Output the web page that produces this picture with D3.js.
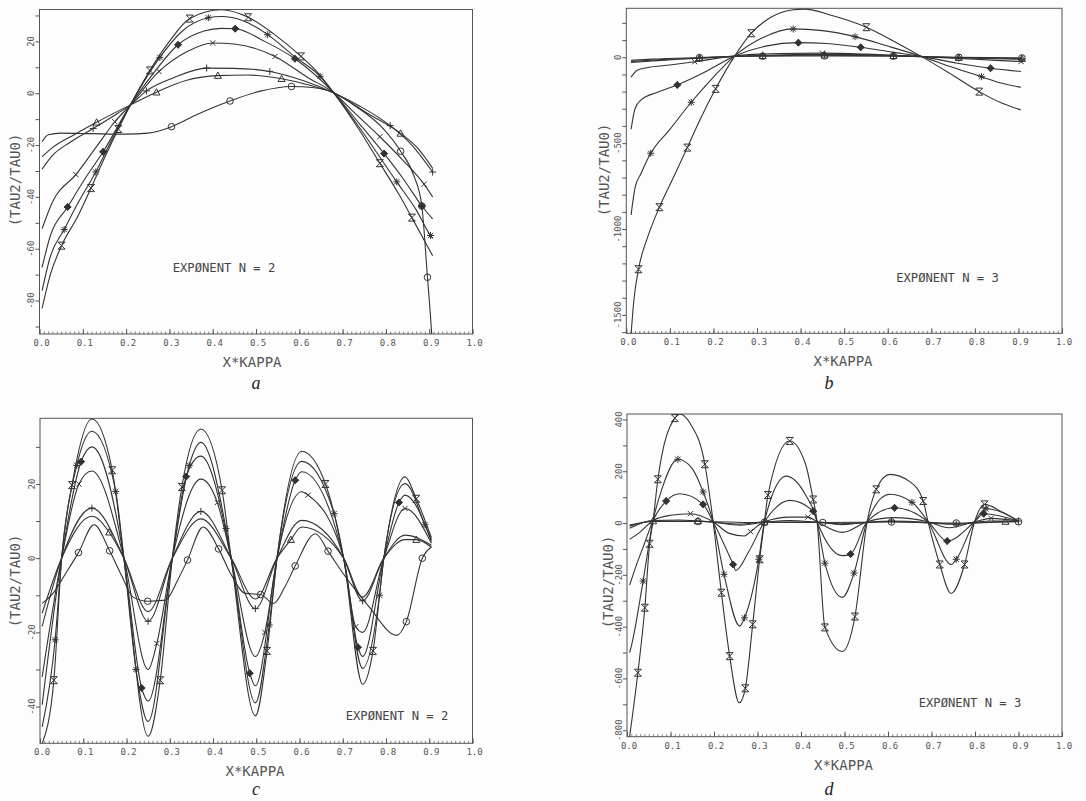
<!DOCTYPE html>
<html><head><meta charset="utf-8">
<script src="https://cdn.jsdelivr.net/npm/d3@7"></script>
<style>body{margin:0;background:#fff}</style>
</head><body>
<svg id="chart" width="1086" height="801"></svg>
<script>
// ---------- tick labels ----------
const xTickVals = [0,0.1,0.2,0.3,0.4,0.5,0.6,0.7,0.8,0.9,1.0];
const aYLabels = [20,0,-20,-40,-60,-80];
const bYLabels = [0,-500,-1000,-1500];
const cYLabels = [20,0,-20,-40];
const dYLabels = [400,200,0,-200,-400,-600,-800];
const symbols = ["hour","star","diam","cross","plus","tri","circ"];

// ---------- panel a (N = 2) : [x, y, marker] ----------
const aHour = [[0.006,-83],[0.025,-70],[0.051,-58.8,1],[0.09,-47],[0.119,-36.6,1],[0.15,-25],[0.182,-13.8,1],[0.21,-4.5],[0.255,8.8,1],[0.30,20],[0.347,28.8,1],[0.42,32.2],[0.482,29.3,1],[0.54,23],[0.604,14.2,1],[0.645,7.5],[0.679,0.3],[0.73,-12],[0.786,-27,1],[0.83,-39],[0.86,-48,1],[0.908,-62.7]];
const aStar = [[0.006,-76.2],[0.025,-63],[0.057,-52.6,1],[0.09,-42],[0.13,-30.4,1],[0.17,-17],[0.21,-4.5],[0.278,13.8,1],[0.33,24],[0.39,29.1,1],[0.42,29.6],[0.47,28],[0.527,22.6,1],[0.59,14],[0.648,6.5,1],[0.679,0.2],[0.74,-13.5],[0.825,-34.2,1],[0.87,-45],[0.903,-54.9,1],[0.908,-56]];
const aDiam = [[0.006,-67.2],[0.025,-55],[0.065,-43.9,1],[0.105,-33],[0.147,-22.6,1],[0.21,-4.5],[0.26,7],[0.32,18.7,1],[0.38,24],[0.42,25],[0.452,24.9,1],[0.52,20],[0.59,13.3,1],[0.679,0.2],[0.74,-12],[0.796,-23.3,1],[0.84,-33],[0.883,-43.5,1],[0.908,-48.5]];
const aCross = [[0.006,-52.3],[0.03,-42],[0.084,-31.4,1],[0.13,-21],[0.174,-11,1],[0.21,-4.5],[0.276,8.4,1],[0.34,16],[0.40,19.4,1],[0.45,19],[0.544,14.2,1],[0.62,6],[0.679,0.2],[0.73,-8],[0.786,-16.8,1],[0.84,-26],[0.888,-35.1,1],[0.908,-40]];
const aPlus = [[0.006,-29.3],[0.03,-24],[0.07,-19],[0.124,-13.6,1],[0.18,-7.8],[0.21,-4.5],[0.247,0.9,1],[0.31,6],[0.386,9.7,1],[0.45,9.6],[0.532,8.4,1],[0.61,4.8],[0.679,0.2],[0.74,-5],[0.81,-12.5,1],[0.86,-20],[0.908,-30.4,1]];
const aTri = [[0.006,-24.5],[0.03,-21],[0.08,-16],[0.132,-11.2,1],[0.21,-4.5],[0.27,0.4,1],[0.34,5],[0.412,6.8,1],[0.48,7],[0.559,5.6,1],[0.62,3.3],[0.679,0.2],[0.76,-8],[0.834,-15.5,1],[0.875,-21.5],[0.908,-29]];
const aCirc = [[0.006,-18.7],[0.02,-16],[0.05,-15.4],[0.12,-15.6],[0.2,-15.8],[0.25,-15.4],[0.305,-12.9,1],[0.36,-8.5],[0.44,-3,1],[0.51,0.8],[0.582,2.6,1],[0.63,2.2],[0.679,0.2],[0.73,-5],[0.79,-13],[0.834,-22.4,1],[0.865,-32],[0.883,-43.5,1],[0.896,-71,1],[0.903,-86],[0.906,-93.5]];

// ---------- panel b (N = 3) ----------
const bHour = [[0.009,-1680],[0.018,-1400],[0.028,-1234,1],[0.05,-1040],[0.076,-873,1],[0.11,-690],[0.14,-526,1],[0.17,-360],[0.205,-184,1],[0.249,8],[0.287,140,1],[0.33,230],[0.38,275],[0.409,280],[0.47,245],[0.551,175,1],[0.62,85],[0.677,5],[0.74,-90],[0.81,-200,1],[0.86,-265],[0.906,-307]];
const bStar = [[0.011,-918],[0.02,-760],[0.034,-675],[0.056,-559,1],[0.1,-420],[0.149,-262,1],[0.2,-115],[0.249,8],[0.31,110],[0.383,165,1],[0.45,155],[0.525,120,1],[0.6,65],[0.677,5],[0.75,-60],[0.815,-113,1],[0.86,-150],[0.906,-175]];
const bDiam = [[0.011,-419],[0.02,-300],[0.034,-248],[0.07,-205],[0.117,-161,1],[0.185,-80],[0.249,8],[0.32,65],[0.395,85,1],[0.46,80],[0.538,58,1],[0.61,30],[0.677,5],[0.76,-35],[0.836,-64,1],[0.906,-83]];
const bCross = [[0.011,-116],[0.025,-75],[0.05,-60],[0.1,-45],[0.157,-26,1],[0.249,8],[0.35,22],[0.45,24,1],[0.55,18],[0.677,3],[0.8,-12],[0.906,-25,1]];
const bPlus = [[0.011,-30],[0.06,-22],[0.12,-12],[0.168,-6,1],[0.249,6],[0.313,12,1],[0.455,17,1],[0.613,12,1],[0.677,4],[0.763,-4,1],[0.908,-12,1]];
const bTri = [[0.011,-25],[0.08,-14],[0.168,-4,1],[0.249,5],[0.313,9,1],[0.455,12,1],[0.613,9,1],[0.763,-2,1],[0.908,-8,1]];
const bCirc = [[0.011,-18],[0.06,-11],[0.168,-2,1],[0.249,4],[0.313,6,1],[0.455,8,1],[0.613,6,1],[0.763,0,1],[0.908,-4,1]];

// ---------- panel c (N = 2) ----------
const cHour = [[0.005,-50],[0.032,-32.9,1],[0.05,0],[0.074,19.7,1],[0.12,37.5],[0.167,23.7,1],[0.194,0],[0.25,-48],[0.278,-32.9,1],[0.306,0],[0.328,19.2,1],[0.372,34.8],[0.421,18.3,1],[0.442,0],[0.498,-42.5],[0.525,-25,1],[0.548,0],[0.605,28.8],[0.66,20,1],[0.702,0],[0.746,-34],[0.77,-25,1],[0.795,0],[0.844,21.9],[0.87,16,1],[0.905,5.5]];
const cStar = [[0.005,-45.5],[0.035,-22,1],[0.05,0],[0.085,25,1],[0.12,34.2],[0.175,18,1],[0.194,0],[0.222,-30,1],[0.25,-44],[0.306,0],[0.345,25,1],[0.372,31.2],[0.43,8,1],[0.442,0],[0.498,-39],[0.53,-18,1],[0.548,0],[0.605,26.1],[0.68,12,1],[0.702,0],[0.746,-29.7],[0.785,-10,1],[0.795,0],[0.844,20.1],[0.89,9,1],[0.905,5]];
const cDiam = [[0.005,-39.5],[0.05,0],[0.095,26,1],[0.12,30],[0.194,0],[0.235,-35,1],[0.25,-38.5],[0.306,0],[0.338,22,1],[0.372,27.5],[0.442,0],[0.485,-31,1],[0.498,-34.4],[0.548,0],[0.59,21,1],[0.605,23.3],[0.702,0],[0.735,-24,1],[0.746,-26.5],[0.795,0],[0.83,15,1],[0.844,17],[0.905,4.5]];
const cCross = [[0.005,-32],[0.05,0],[0.09,20,1],[0.12,23.5],[0.194,0],[0.25,-30],[0.27,-23,1],[0.306,0],[0.372,21.3],[0.41,15,1],[0.442,0],[0.498,-26.5],[0.52,-20,1],[0.548,0],[0.605,17.9],[0.62,17,1],[0.702,0],[0.73,-18.5,1],[0.746,-20],[0.795,0],[0.844,13.4,1],[0.905,4]];
const cPlus = [[0.005,-18.4],[0.05,0],[0.12,13.5,1],[0.194,0],[0.25,-17,1],[0.306,0],[0.372,12.6,1],[0.442,0],[0.498,-13.6,1],[0.548,0],[0.605,10.2],[0.702,0],[0.746,-11.5,1],[0.795,0],[0.844,6.2],[0.905,3.5]];
const cTri = [[0.005,-14.8],[0.05,0],[0.12,11.3],[0.16,7,1],[0.194,0],[0.25,-14.4],[0.306,0],[0.372,10.6],[0.442,0],[0.498,-11],[0.548,0],[0.58,5,1],[0.605,8.4],[0.702,0],[0.746,-10.5],[0.795,0],[0.844,5],[0.87,5,1],[0.905,3]];
const cCirc = [[0.005,-12.2],[0.03,-9.5],[0.06,-4],[0.089,1.5,1],[0.125,9],[0.161,2,1],[0.19,-5],[0.215,-10.5],[0.249,-11.6,1],[0.29,-11.3],[0.318,-6],[0.341,-0.5,1],[0.377,8.4],[0.413,2.5,1],[0.44,-4],[0.475,-9.5],[0.51,-9.8,1],[0.54,-12.2],[0.565,-8],[0.59,-2.1,1],[0.637,6.6],[0.666,1.9,1],[0.7,-4],[0.76,-13],[0.825,-20.8],[0.847,-17.1,1],[0.884,0,1],[0.905,3]];

// ---------- panel d (N = 3) ----------
const dHour = [[0.006,-825],[0.025,-578,1],[0.041,-327,1],[0.052,-80,1],[0.06,10],[0.071,169,1],[0.11,405,1],[0.122,420],[0.145,385],[0.179,227,1],[0.198,5],[0.217,-269,1],[0.236,-514,1],[0.258,-694],[0.272,-638,1],[0.289,-391,1],[0.305,-140,1],[0.316,5],[0.324,108,1],[0.374,317,1],[0.41,230],[0.428,91,1],[0.437,5],[0.455,-403,1],[0.495,-496],[0.524,-361,1],[0.552,5],[0.573,130,1],[0.604,188],[0.65,160],[0.681,85,1],[0.692,5],[0.719,-160,1],[0.745,-272],[0.776,-160,1],[0.799,5],[0.822,72,1],[0.86,45],[0.9,8]];
const dStar = [[0.006,-500],[0.01,-475],[0.037,-224,1],[0.06,10],[0.08,130],[0.117,246,1],[0.15,210],[0.175,120,1],[0.198,5],[0.223,-198,1],[0.259,-398],[0.27,-366,1],[0.303,-140,1],[0.316,5],[0.366,181],[0.41,110],[0.437,5],[0.455,-155,1],[0.495,-287],[0.522,-193,1],[0.552,5],[0.604,111],[0.655,80,1],[0.692,5],[0.746,-160],[0.757,-140,1],[0.799,5],[0.825,55,1],[0.9,8]];
const dDiam = [[0.006,-240],[0.02,-170],[0.04,-80],[0.06,10],[0.09,85,1],[0.121,113],[0.175,72,1],[0.198,5],[0.244,-160,1],[0.25,-183],[0.28,-110],[0.316,5],[0.374,87.5],[0.428,46,1],[0.437,5],[0.495,-126],[0.514,-120,1],[0.552,5],[0.615,59,1],[0.692,5],[0.736,-69.5,1],[0.799,5],[0.82,36,1],[0.9,8]];
const dCross = [[0.006,-63],[0.03,-35],[0.06,10],[0.1,30],[0.146,36,1],[0.198,5],[0.235,-40],[0.27,-50],[0.284,-33,1],[0.316,5],[0.374,23],[0.416,23,1],[0.437,5],[0.495,-36],[0.552,5],[0.615,21],[0.692,5],[0.74,-18],[0.799,5],[0.837,18,1],[0.9,8]];
const dPlus = [[0.006,-20],[0.06,10],[0.12,12],[0.198,3],[0.26,-8],[0.316,3],[0.374,10],[0.437,3],[0.495,-6],[0.552,3],[0.608,8,1],[0.692,3],[0.757,-5,1],[0.799,3],[0.84,8],[0.9,8,1]];
const dTri = [[0.006,-12],[0.06,8,1],[0.163,8,1],[0.26,-4],[0.316,4,1],[0.44,4],[0.49,-3],[0.608,6],[0.75,-4],[0.87,6,1],[0.9,6]];
const dCirc = [[0.006,-8],[0.06,6],[0.163,6,1],[0.3,2],[0.316,3,1],[0.45,2,1],[0.608,4,1],[0.757,0,1],[0.9,5,1]];

// ---------- layout ----------
const panels = [
 {L:39.5,R:472.5,T:9.5,B:334,ymin:-92.9,ymax:32.3,yLab:aYLabels,ystep:10,series:[aHour,aStar,aDiam,aCross,aPlus,aTri,aCirc],
  exp:"EXPØNENT N = 2",ex:224,ey:271.5,tx:19.5,ty:180,xt:252,letter:"a",lx:256,ly:389},
 {L:626.3,R:1062,T:8.3,B:333.3,ymin:-1607,ymax:285,yLab:bYLabels,ystep:100,series:[bHour,bStar,bDiam,bCross,bPlus,bTri,bCirc],
  exp:"EXPØNENT N = 3",ex:947.5,ey:281.5,tx:609,ty:170,xt:843,letter:"b",lx:829,ly:389},
 {L:40,R:472.5,T:418.3,B:743.3,ymin:-49.9,ymax:37.7,yLab:cYLabels,ystep:10,series:[cHour,cStar,cDiam,cCross,cPlus,cTri,cCirc],
  exp:"EXPØNENT N = 2",ex:397,ey:720,tx:19.5,ty:581,xt:255,letter:"c",lx:256,ly:795},
 {L:627,R:1062,T:414,B:736.7,ymin:-825,ymax:421,yLab:dYLabels,ystep:100,series:[dHour,dStar,dDiam,dCross,dPlus,dTri,dCirc],
  exp:"EXPØNENT N = 3",ex:970,ey:706.5,tx:613,ty:582,xt:843.5,letter:"d",lx:829,ly:795}
];

const FONT = "'DejaVu Sans Mono', monospace";
const INK = "#333", TXT = "#555";
const svg = d3.select("#chart");
svg.append("rect").attr("width",1086).attr("height",801).attr("fill","#fdfdfd");

function symPath(t, r){
  const k = r*0.75;
  switch(t){
    case "hour": return `M${-r},${-r}L${r},${r}M${r},${-r}L${-r},${r}M${-r},${-r}H${r}M${-r},${r}H${r}`;
    case "star": return `M${-r},0H${r}M0,${-r}V${r}M${-k},${-k}L${k},${k}M${k},${-k}L${-k},${k}`;
    case "diam": return `M0,${-r}L${r},0L0,${r}L${-r},0ZM${-r},0H${r}M0,${-r}V${r}`;
    case "cross": return `M${-k},${-k}L${k},${k}M${k},${-k}L${-k},${k}`;
    case "plus": return `M${-r},0H${r}M0,${-r}V${r}`;
    case "tri": return `M0,${-r}L${r},${r*0.8}L${-r},${r*0.8}Z`;
    default: return null;
  }
}

panels.forEach((p,i)=>{
  const g = svg.append("g");
  const x = d3.scaleLinear().domain([0,1]).range([p.L,p.R]);
  const y = d3.scaleLinear().domain([p.ymin,p.ymax]).range([p.B,p.T]);
  const clipId = "clip"+i;
  svg.append("clipPath").attr("id",clipId).append("rect")
    .attr("x",p.L).attr("y",p.T).attr("width",p.R-p.L).attr("height",p.B-p.T);

  const gm = g.append("g").attr("transform",`translate(0,${p.B})`)
    .call(d3.axisBottom(x).ticks(100).tickSize(-2.5).tickFormat(""));
  gm.select(".domain").remove();
  gm.selectAll("line").attr("stroke","#666").attr("stroke-width",0.8);
  const gx = g.append("g").attr("transform",`translate(0,${p.B})`)
    .call(d3.axisBottom(x).tickValues(xTickVals).tickSize(-5).tickPadding(5.5).tickFormat(d3.format(".1f")));
  gx.select(".domain").remove();
  gx.selectAll("line").attr("stroke","#555");
  gx.selectAll("text").attr("font-family",FONT).attr("font-size",9).attr("fill",TXT).attr("dx",1.5);

  const yMinor = d3.range(Math.ceil(p.ymin/p.ystep)*p.ystep, p.ymax+1e-9, p.ystep);
  const gy = g.append("g").attr("transform",`translate(${p.L},0)`)
    .call(d3.axisLeft(y).tickValues(yMinor).tickSize(4).tickFormat(""));
  gy.select(".domain").remove();
  gy.selectAll("line").attr("stroke","#555");
  g.selectAll(".ylab").data(p.yLab).enter().append("text")
    .attr("x",p.L-5).attr("y",d=>y(d))
    .attr("transform",d=>`rotate(-90,${p.L-5},${y(d)})`)
    .attr("text-anchor","middle").attr("font-family",FONT).attr("font-size",9).attr("fill",TXT)
    .text(d=>d);

  g.append("rect").attr("x",p.L).attr("y",p.T).attr("width",p.R-p.L).attr("height",p.B-p.T)
    .attr("fill","none").attr("stroke","#555").attr("stroke-width",1);

  const line = d3.line().x(d=>x(d[0])).y(d=>y(d[1])).curve(d3.curveMonotoneX);
  const gc = g.append("g").attr("clip-path",`url(#${clipId})`);
  p.series.forEach((s,k)=>{
    gc.append("path").attr("d",line(s)).attr("fill","none").attr("stroke",INK).attr("stroke-width",1.1);
    const sym = symbols[k];
    s.filter(d=>d[2]===1).forEach(d=>{
      const cx = x(d[0]), cy = y(d[1]);
      if(sym==="circ"){
        gc.append("circle").attr("cx",cx).attr("cy",cy).attr("r",3.3)
          .attr("fill","none").attr("stroke",INK).attr("stroke-width",1);
      } else {
        gc.append("path").attr("transform",`translate(${cx},${cy})`).attr("d",symPath(sym,3.5))
          .attr("fill",sym==="diam"?INK:"none").attr("stroke",INK).attr("stroke-width",1);
      }
    });
  });

  g.append("text").attr("x",p.ex).attr("y",p.ey).attr("text-anchor","middle")
    .attr("font-family",FONT).attr("font-size",12.2).attr("fill","#444").text(p.exp);
  g.append("text").attr("x",p.tx).attr("y",p.ty).attr("transform",`rotate(-90,${p.tx},${p.ty})`)
    .attr("text-anchor","middle").attr("font-family",FONT).attr("font-size",14).attr("fill",TXT).text("(TAU2/TAU0)");
  g.append("text").attr("x",p.xt).attr("y",p.B+33).attr("text-anchor","middle")
    .attr("font-family",FONT).attr("font-size",14).attr("fill",TXT).text("X*KAPPA");
  g.append("text").attr("x",p.lx).attr("y",p.ly).attr("text-anchor","middle")
    .attr("font-family","'Liberation Serif', serif").attr("font-style","italic").attr("font-size",18)
    .attr("fill","#222").text(p.letter);
});
</script>
</body></html>
